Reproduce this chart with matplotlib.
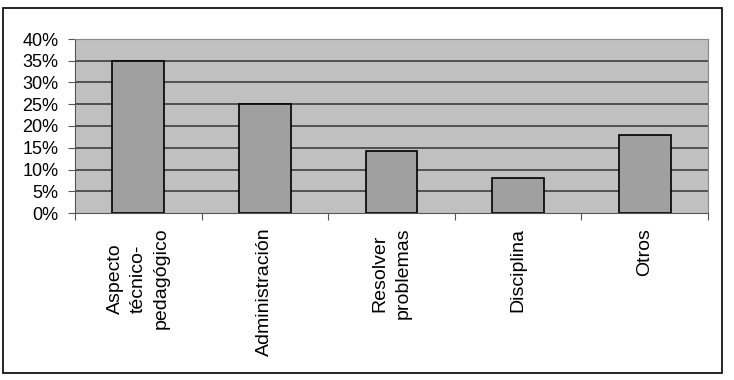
import matplotlib
matplotlib.use("Agg")
from matplotlib import pyplot as plt, patches
import numpy as np

categories = ["Aspecto\ntécnico-\npedagógico", "Administración", "Resolver\nproblemas", "Disciplina", "Otros"]
values = [35, 25, 14.3, 8, 18]
yticks = [0, 5, 10, 15, 20, 25, 30, 35, 40]

plt.rcParams['font.family'] = ['Liberation Sans', 'DejaVu Sans']

W, H = 734, 380
fig = plt.figure(figsize=(W/100, H/100), dpi=100)
ax = fig.add_axes([75/W, 1-213/H, (708-75)/W, (213-39)/H])

# outer frame
fig.patches.append(patches.Rectangle((3/W, 1-373/H), 719/W, 365/H, transform=fig.transFigure,
                                     fill=False, edgecolor='black', lw=1.2))

x = np.arange(len(categories))
ax.set_facecolor('#C0C0C0')
for y in yticks[1:]:
    ax.axhline(y, color='#333333', lw=1.1, zorder=1)
ax.bar(x, values, width=0.41, color='#A0A0A0', edgecolor='black', lw=1.2, zorder=2)

ax.set_xlim(-0.5, len(categories)-0.5)
ax.set_ylim(0, 40)
ax.set_yticks(yticks)
ax.set_yticklabels([f"{v}%" for v in yticks], fontsize=13)
ax.tick_params(axis='y', length=5, direction='out', color='#555555', pad=7)

ax.set_xticks(np.arange(-0.5, len(categories)), minor=False)
ax.set_xticklabels([])
ax.tick_params(axis='x', length=5, direction='out', color='#555555')
for i, c in enumerate(categories):
    ax.text(i, -3.4, c, rotation=90, ha='center', va='top', multialignment='center',
            fontsize=14, linespacing=1.45)

for s in ['top', 'right']:
    ax.spines[s].set_color('#888888')
ax.spines['left'].set_color('#555555')
ax.spines['bottom'].set_color('#555555')

fig.savefig("out.png", dpi=100)
